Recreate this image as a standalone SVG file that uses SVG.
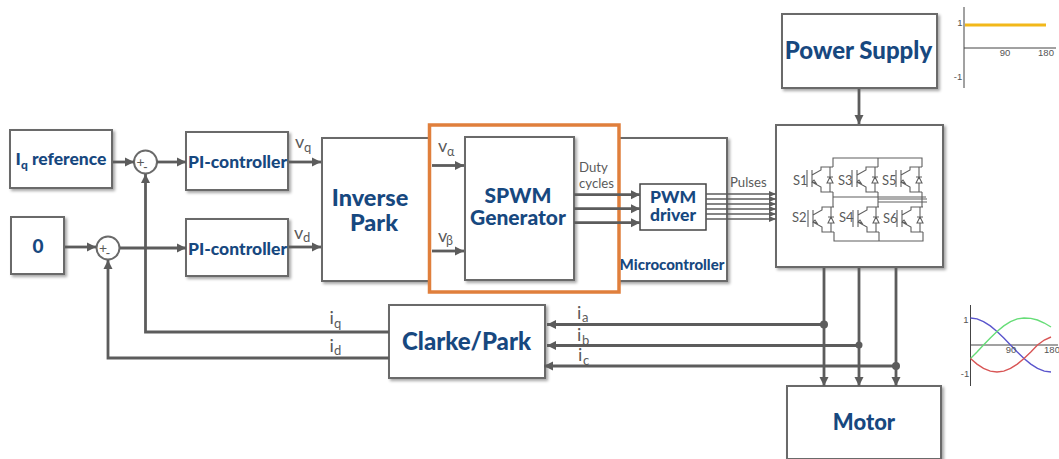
<svg xmlns="http://www.w3.org/2000/svg" xmlns:xlink="http://www.w3.org/1999/xlink" width="1059" height="459" viewBox="0 0 1059 459">
<style>
.b{fill:#fff;stroke:#6a6a6a;stroke-width:2}
.t{font-family:"Lato","Open Sans",sans-serif;font-weight:900;fill:#17487f;text-anchor:middle}
.l{font-family:"Lato","Open Sans",sans-serif;font-weight:400;fill:#5a5a5a;font-size:18px}
.m{font-size:12.500px}
.d{font-size:13.200px}
.ss{font-size:13px}
.c{fill:none;stroke:#5c5c5c;stroke-width:2.800}
.p{fill:none;stroke:#5f5f5f;stroke-width:1.100}
.ax{font-family:"Liberation Sans",sans-serif;font-size:9.500px;fill:#555;text-anchor:middle}
.cv{fill:none;stroke-width:1.400}
</style>
<defs>
<filter id="sh" x="-10%" y="-10%" width="125%" height="125%"><feDropShadow dx="2" dy="2" stdDeviation="1.500" flood-color="#000" flood-opacity=".35"/></filter>
<marker id="a" markerUnits="userSpaceOnUse" markerWidth="10" markerHeight="10" refX="9" refY="5" orient="auto"><path d="M0 .5L9 5L0 9.500z" fill="#5c5c5c"/></marker>
<marker id="a2" markerUnits="userSpaceOnUse" markerWidth="8" markerHeight="8" refX="7" refY="4" orient="auto"><path d="M0 1L7 4L0 7z" fill="#5c5c5c"/></marker>
<g id="igbt" class="p"><path d="M0 3V20M5 3V20M5 8L14 3V0H26M26 25H14V20L5 15M23 0V10M23 16V25M20 16L23 10L26 16zM20 10H26M5 15L9 16L7 13z"/></g>
</defs>
<rect width="1059" height="459" fill="#fff"/>
<g id="iq-reference"><rect class="b" filter="url(#sh)" x="10" y="130" width="102" height="58"/><text class="t" x="61" y="165" font-size="17.500">I<tspan font-size="12" dy="4">q</tspan><tspan dy="-4"> reference</tspan></text></g>
<g id="zero"><rect class="b" filter="url(#sh)" x="11" y="217" width="53" height="57"/><text class="t" x="38" y="253" font-size="19">0</text></g>
<g id="sum1"><circle class="b" cx="145.500" cy="162" r="11.500"/><text class="l" x="136.500" y="167" style="font-size:14px">+</text><text class="l" x="143" y="172" style="font-size:13px">-</text></g>
<g id="sum2"><circle class="b" cx="108" cy="248" r="11.500"/><text class="l" x="99" y="253" style="font-size:14px">+</text><text class="l" x="105.500" y="258" style="font-size:13px">-</text></g>
<g id="pi1"><rect class="b" filter="url(#sh)" x="186" y="132" width="102" height="58"/><text class="t" x="237.500" y="168" font-size="17.500">PI-controller</text></g>
<g id="pi2"><rect class="b" filter="url(#sh)" x="186" y="219" width="102" height="57"/><text class="t" x="237.500" y="255" font-size="17.500">PI-controller</text></g>
<g id="microcontroller"><rect class="b" filter="url(#sh)" x="600" y="138" width="127" height="143"/><text class="t" x="672" y="270" font-size="15">Microcontroller</text></g>
<g id="inverse-park"><rect class="b" filter="url(#sh)" x="322" y="138" width="120" height="143"/><text class="t" font-size="23.500"><tspan x="370" y="206">Inverse</tspan><tspan x="374" y="231">Park</tspan></text></g>
<rect id="highlight" x="429.500" y="125" width="189.500" height="167" fill="#fff" stroke="#e07f3c" stroke-width="3.500"/>
<g id="spwm"><rect class="b" filter="url(#sh)" x="465" y="137" width="109" height="143"/><text class="t" font-size="21"><tspan x="518" y="203">SPWM</tspan><tspan x="518" y="225">Generator</tspan></text></g>
<g id="pwm-driver"><rect fill="#fff" stroke="#444" stroke-width="1.500" x="640" y="184" width="66" height="46"/><text class="t" font-size="17.500"><tspan x="673" y="203">PWM</tspan><tspan x="673" y="221">driver</tspan></text></g>
<g id="power-supply"><rect class="b" filter="url(#sh)" x="782" y="14" width="155" height="74"/><text class="t" x="858.500" y="59" font-size="24">Power Supply</text></g>
<g id="inverter"><rect class="b" filter="url(#sh)" x="776" y="125" width="167" height="142"/>
<use xlink:href="#igbt" href="#igbt" x="807" y="167"/><use xlink:href="#igbt" href="#igbt" x="852" y="167"/><use xlink:href="#igbt" href="#igbt" x="896" y="167"/>
<use xlink:href="#igbt" href="#igbt" x="808" y="207"/><use xlink:href="#igbt" href="#igbt" x="853" y="207"/><use xlink:href="#igbt" href="#igbt" x="897" y="207"/>
<path class="p" d="M833 167V158H922V167M878 158V167M833 192V207M878 192V207M922 192V207M834 232V241H923V232M879 232V241M833 197H926M878 199H927M878 202H927"/>
<text class="l ss" x="793" y="185">S1</text><text class="l ss" x="838" y="185">S3</text><text class="l ss" x="882" y="185">S5</text><text class="l ss" x="792" y="222">S2</text><text class="l ss" x="839" y="222">S4</text><text class="l ss" x="883" y="223">S6</text></g>
<g id="clarke-park"><rect class="b" filter="url(#sh)" x="389" y="305" width="156" height="73"/><text class="t" x="466.500" y="350" font-size="24">Clarke/Park</text></g>
<g id="motor"><rect class="b" filter="url(#sh)" x="787" y="386" width="154" height="73"/><text class="t" x="864" y="430" font-size="22">Motor</text></g>
<g id="connectors">
<path class="c" marker-end="url(#a)" d="M113 162H134"/>
<path class="c" marker-end="url(#a)" d="M157 162H186"/>
<path class="c" marker-end="url(#a)" d="M65 247H96"/>
<path class="c" marker-end="url(#a)" d="M120 248H186"/>
<path class="c" marker-end="url(#a)" d="M289 162H321"/>
<path class="c" marker-end="url(#a)" d="M289 247H321"/>
<path class="c" marker-end="url(#a)" d="M389 332H145.500V174"/>
<path class="c" marker-end="url(#a)" d="M389 358H108V260"/>
<path class="c" marker-end="url(#a)" d="M432 165.500H464"/>
<path class="c" marker-end="url(#a)" d="M432 251H464"/>
<path class="c" marker-end="url(#a)" d="M574 194.700H640"/>
<path class="c" marker-end="url(#a)" d="M574 208.700H640"/>
<path class="c" marker-end="url(#a)" d="M574 222.700H640"/>
<g fill="none" stroke="#5c5c5c" stroke-width="1.300"><path d="M706 194H776" marker-end="url(#a2)"/><path d="M706 199H776" marker-end="url(#a2)"/><path d="M706 204H776" marker-end="url(#a2)"/><path d="M706 209H776" marker-end="url(#a2)"/><path d="M706 214H776" marker-end="url(#a2)"/><path d="M706 219H776" marker-end="url(#a2)"/></g>
<path class="c" marker-end="url(#a)" d="M859 89V124"/>
<path class="c" marker-end="url(#a)" d="M824 268V386"/>
<path class="c" marker-end="url(#a)" d="M859 268V386"/>
<path class="c" marker-end="url(#a)" d="M896 268V386"/>
<path class="c" marker-end="url(#a)" d="M824 324.500H547"/>
<path class="c" marker-end="url(#a)" d="M859 345.500H547"/>
<path class="c" marker-end="url(#a)" d="M896 366H544"/>
<circle cx="824" cy="324.500" r="4" fill="#5c5c5c"/><circle cx="859" cy="345" r="3.500" fill="#5c5c5c"/><circle cx="896" cy="366" r="4" fill="#5c5c5c"/>
</g>
<g id="labels">
<text class="l" x="295" y="148">v</text><text class="l ss" x="304" y="152">q</text>
<text class="l" x="294" y="239">v</text><text class="l ss" x="303" y="242">d</text>
<text class="l" x="438" y="152">v</text><text class="l m" x="447" y="156">α</text>
<text class="l" x="438" y="242">v</text><text class="l m" x="446" y="245">β</text>
<text class="l d" x="579" y="172">Duty</text><text class="l d" x="579" y="187.500">cycles</text>
<text class="l d" x="730" y="187">Pulses</text>
<text class="l" x="329.500" y="324">i</text><text class="l ss" x="334" y="328">q</text>
<text class="l" x="329.500" y="352">i</text><text class="l ss" x="334" y="355">d</text>
<text class="l" x="577" y="319">i</text><text class="l ss" x="582" y="322">a</text>
<text class="l" x="577" y="341">i</text><text class="l ss" x="582" y="345">b</text>
<text class="l" x="578" y="361">i</text><text class="l ss" x="583" y="365">c</text>
</g>
<g id="chart-top">
<path d="M964 7V88M964 48H1056" fill="none" stroke="#444" stroke-width="1"/>
<path d="M965 25H1046" stroke="#f2b81a" stroke-width="3"/>
<text class="ax" x="960" y="26">1</text><text class="ax" x="958" y="80">-1</text><text class="ax" x="1005" y="56">90</text><text class="ax" x="1046" y="56">180</text>
</g>
<g id="chart-bottom">
<path d="M970.500 305V386M970.500 345H1058" fill="none" stroke="#444" stroke-width="1"/>
<polyline class="cv" stroke="#5a55cc" points="970.500,318 977,318.900 983.500,321.600 990.300,325.900 997,331.500 1003.800,338 1010.500,345 1017.300,352 1024,358.500 1030.800,364.100 1037.500,368.400 1044.300,371.100 1051,372"/>
<polyline class="cv" stroke="#66dd77" points="970.500,358.500 977,352 983.500,345 990.300,338 997,331.500 1003.800,325.900 1010.500,321.600 1017.300,318.900 1024,318 1030.800,318.400 1037.500,320 1044.300,323 1051,327"/>
<polyline class="cv" stroke="#d85555" points="970.500,358.500 977,364.100 983.500,368.400 990.300,371.100 997,372 1003.800,371.100 1010.500,368.400 1017.300,364.100 1024,358.500 1030.800,352 1037.500,345 1044.300,340 1051,337"/>
<text class="ax" x="966" y="323">1</text><text class="ax" x="965" y="377">-1</text><text class="ax" x="1011" y="353">90</text><text class="ax" x="1052" y="353">180</text>
</g>
</svg>
